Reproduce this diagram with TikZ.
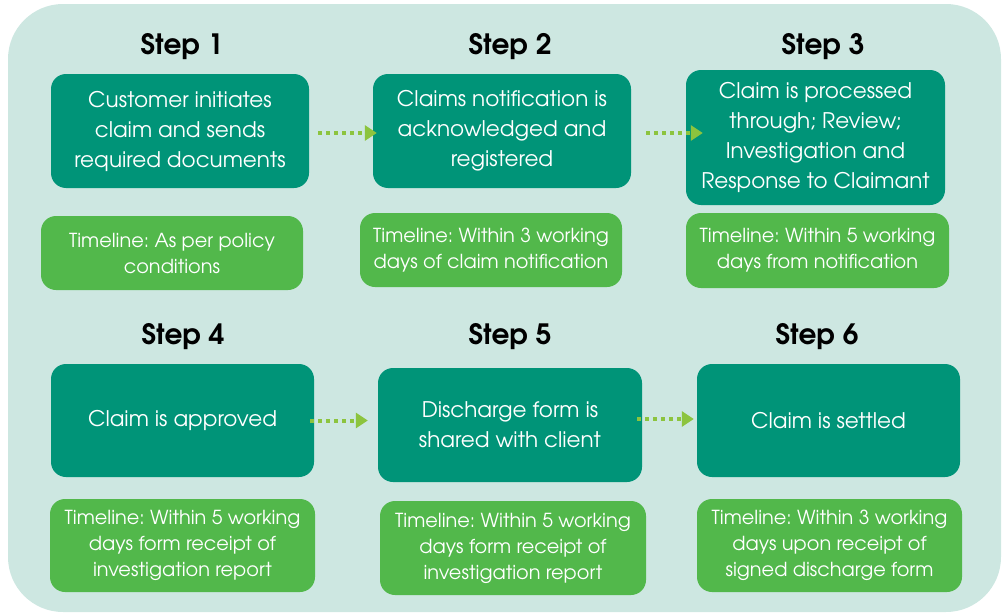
\documentclass[tikz,border=0pt]{standalone}
\usepackage{fontspec}
\setmainfont{TeX Gyre Adventor}
\usetikzlibrary{arrows.meta}
\definecolor{bgc}{HTML}{CDE7E1}
\definecolor{dkc}{HTML}{009478}
\definecolor{ltc}{HTML}{52B84B}
\definecolor{arc}{HTML}{8CC43E}
\tikzset{
  dk/.style={fill=dkc, rounded corners=15pt, text=white, align=center, inner sep=0pt,
    font=\fontsize{21.5}{30}\selectfont\frenchspacing},
  lt/.style={fill=ltc, rounded corners=15pt, text=white, align=center, inner sep=0pt,
    font=\fontsize{19.3}{26}\selectfont\frenchspacing},
  hd/.style={font=\fontsize{28}{30}\selectfont\bfseries, text=black},
  flow/.style={draw=arc, line width=4pt, dash pattern=on 4pt off 4pt,
    -{Triangle[length=12pt,width=15pt]}}
}
\begin{document}
\begin{tikzpicture}[x=1pt,y=-1pt]
\useasboundingbox (0,0) rectangle (1002,613);
\fill[bgc, rounded corners=55pt] (8,4) rectangle (1001,612);
% headings
\node[hd] (h1) at (182,47) {Step 1};
\node[hd] (h2) at (510,47) {Step 2};
\node[hd] (h3) at (823,47) {Step 3};
\node[hd] (h4) at (183,337) {Step 4};
\node[hd] (h5) at (510,337) {Step 5};
\node[hd] (h6) at (817,337) {Step 6};
% row 1
\node[dk, minimum width=258pt, minimum height=114pt] (b1) at (180,131) {Customer initiates\\claim and sends\\required documents};
\node[dk, minimum width=258pt, minimum height=114pt] (b2) at (502,131) {Claims notification is\\acknowledged and\\registered};
\node[dk, minimum width=259pt, minimum height=135pt] (b3) at (815.5,137.5) {Claim is processed\\through; Review;\\Investigation and\\Response to Claimant};
\node[lt, minimum width=262pt, minimum height=74pt] (t1) at (172,253) {Timeline: As per policy\\conditions};
\node[lt, minimum width=262pt, minimum height=74pt] (t2) at (491,250) {Timeline: Within 3 working\\days of claim notification};
\node[lt, minimum width=263pt, minimum height=75pt] (t3) at (817.5,250.5) {Timeline: Within 5 working\\days from notification};
% row 2
\node[dk, minimum width=263pt, minimum height=113pt] (b4) at (182.5,420.5) {Claim is approved};
\node[dk, minimum width=264pt, minimum height=114pt] (b5) at (510,425) {Discharge form is\\shared with client};
\node[dk, minimum width=263pt, minimum height=113pt] (b6) at (828.5,420.5) {Claim is settled};
\node[lt, minimum width=265pt, minimum height=93pt] (t4) at (182.5,545.5) {Timeline: Within 5 working\\days form receipt of\\investigation report};
\node[lt, minimum width=266pt, minimum height=94pt] (t5) at (513,548) {Timeline: Within 5 working\\days form receipt of\\investigation report};
\node[lt, minimum width=265pt, minimum height=93pt] (t6) at (829.5,545.5) {Timeline: Within 3 working\\days upon receipt of\\signed discharge form};
% connectors
\draw[flow, shorten <=9pt, shorten >=-4pt] ([yshift=-2pt]b1.east) -- ([yshift=-2pt]b2.west);
\draw[flow, shorten <=15pt, shorten >=-17pt] ([yshift=-2pt]b2.east) -- ([yshift=-2pt]b2.east -| b3.west);
\draw[flow, shorten <=-4pt, shorten >=10pt] (b4.east) -- (b4.east -| b5.west);
\draw[flow, shorten <=-5pt, shorten >=3pt] ([yshift=1.5pt]b6.west -| b5.east) -- ([yshift=1.5pt]b6.west);
\end{tikzpicture}
\end{document}
